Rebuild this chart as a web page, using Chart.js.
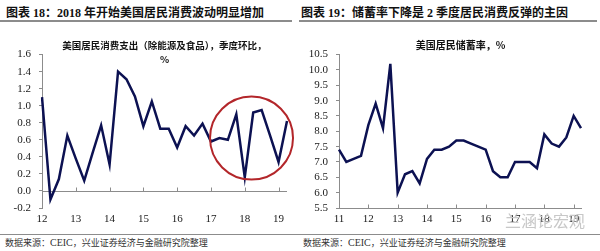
<!DOCTYPE html>
<html lang="zh-CN">
<head>
<meta charset="UTF-8">
<title>美国居民消费与储蓄率</title>
<script src="https://cdn.jsdelivr.net/npm/chart.js"></script>
<style>
  html, body { margin: 0; padding: 0; background: #fff; }
  #page { position: relative; width: 600px; height: 251px; overflow: hidden; }
  .head { position: absolute; top: 3px; font-family: "Liberation Serif", "Noto Sans CJK SC", serif; font-size: 12px; font-weight: bold; color: #111; white-space: nowrap; }
  .rule { position: absolute; background: #8c8c8c; }
  .ctitle { position: absolute; font-family: "Noto Sans CJK SC", sans-serif; font-size: 9.5px; font-weight: bold; color: #111; text-align: center; line-height: 14px; white-space: nowrap; }
  .foot { position: absolute; top: 236px; font-family: "Noto Sans CJK SC", sans-serif; font-size: 9px; color: #333; white-space: nowrap; }
  .foot span { font-family: "Liberation Serif", serif; font-size: 10px; }
  .mark { position: absolute; left: 505px; top: 208px; font-family: "Noto Sans CJK SC", sans-serif; font-size: 16px; color: #c8c8c8; white-space: nowrap; }
  canvas { position: absolute; top: 40px; }
</style>
</head>
<body>
<div id="page">
  <div class="head" style="left:6px">图表 18：2018 年开始美国居民消费波动明显增加</div>
  <div class="head" style="left:301px">图表 19：储蓄率下降是 2 季度居民消费反弹的主因</div>
  <div class="rule" style="left:0; top:20px; width:292px; height:2px"></div>
  <div class="rule" style="left:299px; top:20px; width:298px; height:2px"></div>

  <canvas id="consChart" width="300" height="190" style="left:0"></canvas>
  <canvas id="saveChart" width="300" height="190" style="left:300px"></canvas>

  <div class="ctitle" style="left:44px; width:241px; top:38px">美国居民消费支出（除能源及食品），季度环比，<br>%</div>
  <div class="ctitle" style="left:340px; width:241px; top:38px; font-size:10px">美国居民储蓄率，%</div>

  <div class="mark">兰涵论宏观</div>

  <div class="rule" style="left:0; top:234px; width:600px; height:1px"></div>
  <div class="foot" style="left:5px">数据来源：<span>CEIC</span>，兴业证券经济与金融研究院整理</div>
  <div class="foot" style="left:303px">数据来源：<span>CEIC</span>，兴业证券经济与金融研究院整理</div>
</div>

<script>
// 图表18：美国居民消费支出（除能源及食品），季度环比，2012Q1-2019Q2
const consYears = ['12', '13', '14', '15', '16', '17', '18', '19'];
const consValues = [1.10, -0.10, 0.14, 0.65, 0.38, 0.12, 0.45, 0.77,
                    0.31, 1.40, 1.31, 1.11, 0.76, 1.05, 0.73, 0.73,
                    0.51, 0.76, 0.65, 0.79, 0.58, 0.62, 0.60, 0.90,
                    0.16, 0.92, 0.95, 0.65, 0.34, 0.82];
const consTicks = [-0.2, 0.0, 0.2, 0.4, 0.6, 0.8, 1.0, 1.2, 1.4, 1.6];

// 图表19：美国居民储蓄率，2011Q1-2019Q2
const saveYears = ['11', '12', '13', '14', '15', '16', '17', '18', '19'];
const saveValues = [7.4, 7.0, 7.1, 7.2, 8.2, 8.9, 8.1, 10.2,
                    6.0, 6.6, 6.7, 6.3, 7.1, 7.4, 7.4, 7.5,
                    7.7, 7.7, 7.6, 7.5, 7.4, 6.7, 6.5, 6.5,
                    7.0, 7.0, 7.0, 6.8, 7.9, 7.6, 7.5, 7.8,
                    8.5, 8.1];
const saveTicks = [5.5, 6.0, 6.5, 7.0, 7.5, 8.0, 8.5, 9.0, 9.5, 10.0, 10.5];

// 季度类别
function quarters(years, n) {
  const out = [];
  years.forEach(y => { for (let q = 1; q <= 4; q++) out.push(y + 'Q' + q); });
  return out.slice(0, n);
}

const AXIS = '#8c8c8c';
const LINE = '#0c1152';
const tickFont = { family: '"Liberation Serif", serif', size: 11 };

// 基准线与年份刻度（向上），以及红圈
const axisMarks = {
  id: 'axisMarks',
  beforeDatasetsDraw(chart, args, opts) {
    const { ctx, chartArea, scales: { x, y } } = chart;
    const yb = Math.round(y.getPixelForValue(opts.base)) + 0.5;
    ctx.save();
    ctx.strokeStyle = AXIS;
    ctx.lineWidth = 1;
    ctx.beginPath();
    if (opts.drawBase) {
      ctx.moveTo(chartArea.left, yb);
      ctx.lineTo(chartArea.right, yb);
    }
    for (let i = 4; i < chart.data.labels.length; i += 4) {
      const px = Math.round(x.getPixelForValue(i)) + 0.5;
      ctx.moveTo(px, yb);
      ctx.lineTo(px, yb - 4);
    }
    ctx.stroke();
    ctx.restore();
  },
  afterDatasetsDraw(chart, args, opts) {
    if (!opts.ring) return;
    const { ctx, scales: { x, y } } = chart;
    ctx.save();
    ctx.strokeStyle = '#b3262a';
    ctx.lineWidth = 2;
    ctx.beginPath();
    ctx.arc(x.getPixelForValue(opts.ring.x), y.getPixelForValue(opts.ring.y), opts.ring.r, 0, Math.PI * 2);
    ctx.stroke();
    ctx.restore();
  }
};

function makeChart(id, years, values, ticks, cfg) {
  return new Chart(document.getElementById(id), {
    type: 'line',
    data: {
      labels: quarters(years, values.length),
      datasets: [{
        data: values,
        borderColor: LINE,
        borderWidth: 2.5,
        pointRadius: 0,
        tension: 0,
        fill: false
      }]
    },
    options: {
      responsive: false,
      animation: false,
      devicePixelRatio: 1,
      layout: { padding: cfg.padding },
      plugins: {
        legend: { display: false },
        tooltip: { enabled: false },
        axisMarks: cfg.marks
      },
      scales: {
        x: {
          type: 'category',
          offset: false,
          grid: { display: false, drawTicks: false },
          border: { display: cfg.bottomBorder, color: AXIS },
          ticks: {
            autoSkip: false,
            maxRotation: 0,
            padding: 5,
            color: '#1a1a1a',
            font: tickFont,
            callback: (v, i) => (i % 4 === 0 ? years[i / 4] : '')
          },
          afterFit: s => { s.height = 22; }
        },
        y: {
          min: ticks[0],
          max: ticks[ticks.length - 1],
          grid: { drawOnChartArea: false, drawTicks: true, tickLength: 3, tickColor: AXIS },
          border: { display: true, color: AXIS },
          ticks: {
            autoSkip: false,
            padding: 8,
            color: '#1a1a1a',
            font: tickFont,
            callback: v => Number(v).toFixed(1)
          },
          afterBuildTicks: s => { s.ticks = ticks.map(v => ({ value: v })); },
          afterFit: s => { s.width = cfg.yWidth; }
        }
      }
    },
    plugins: [axisMarks]
  });
}

makeChart('consChart', consYears, consValues, consTicks, {
  padding: { top: 13, right: 13, left: 0, bottom: 0 },
  yWidth: 42,
  bottomBorder: false,
  marks: { base: 0, drawBase: true, ring: { x: 24.8, y: 0.62, r: 41.5 } }
});

makeChart('saveChart', saveYears, saveValues, saveTicks, {
  padding: { top: 14, right: 19, left: 0, bottom: 0 },
  yWidth: 39,
  bottomBorder: true,
  marks: { base: 5.5, drawBase: false, ring: null }
});
</script>
</body>
</html>
